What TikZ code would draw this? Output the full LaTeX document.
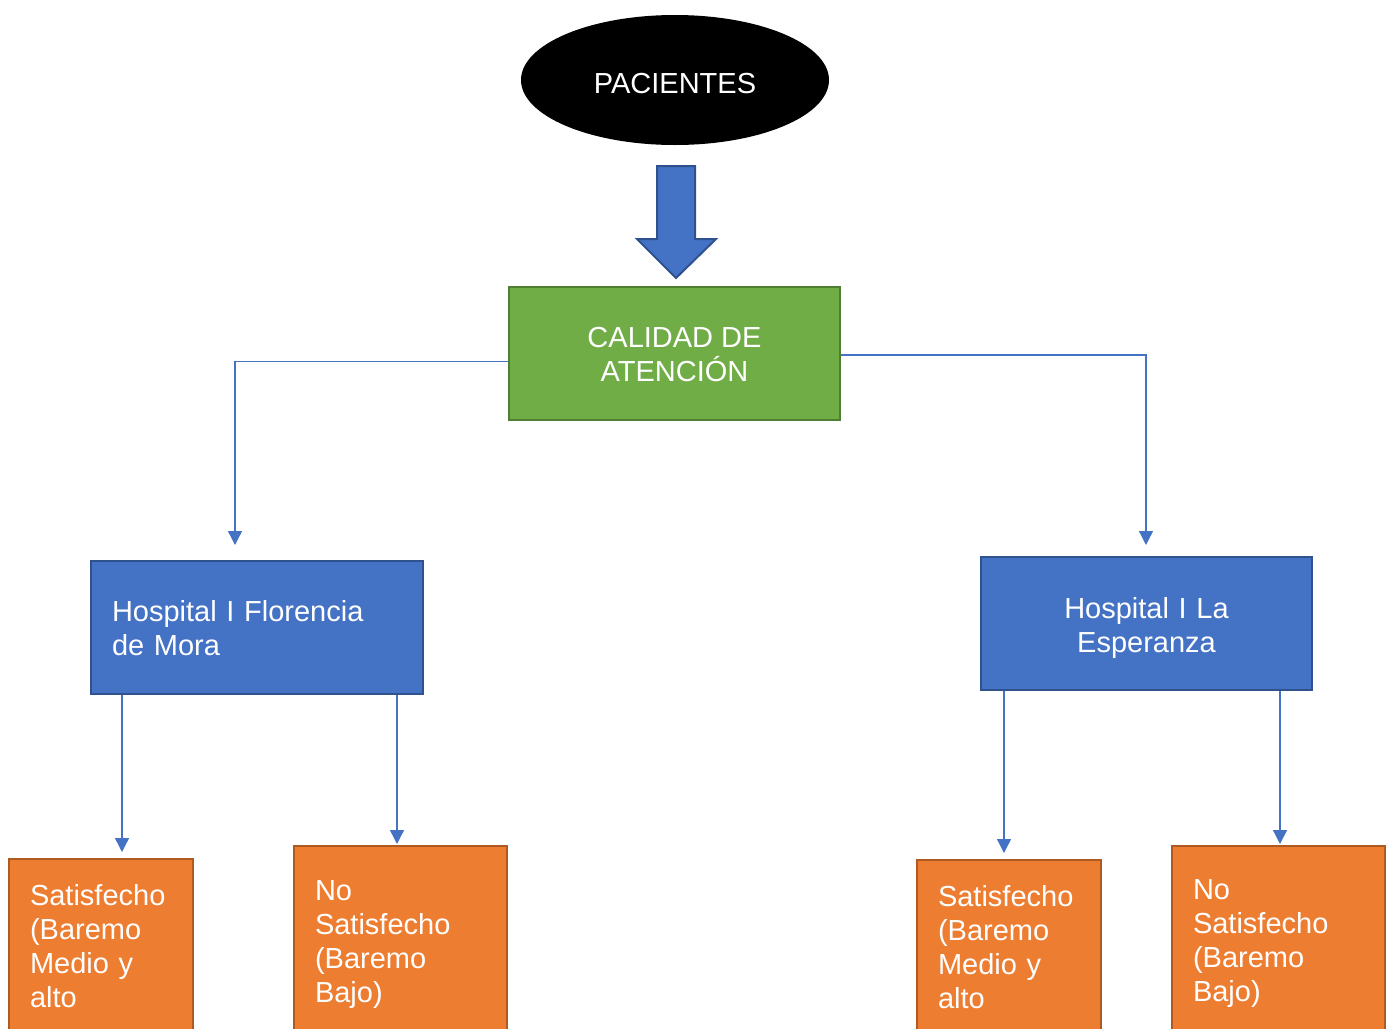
\documentclass[tikz,border=0pt]{standalone}
\usepackage{fontspec}
\setmainfont{Liberation Sans}
\usetikzlibrary{shapes.geometric,arrows.meta}
\definecolor{mblue}{HTML}{4472C4}
\definecolor{mblueb}{HTML}{2F528F}
\definecolor{mgreen}{HTML}{70AD47}
\definecolor{mgreenb}{HTML}{507E32}
\definecolor{morange}{HTML}{ED7D31}
\definecolor{morangeb}{HTML}{AE5A21}
\newcommand{\dnstrut}[1]{\rule{0pt}{#1pt}}
\tikzset{
  txt/.style={text=white,font=\fontsize{29}{34}\selectfont},
  bluebox/.style={txt,rectangle,fill=mblue,draw=mblueb,line width=2.2pt,inner xsep=21pt,inner ysep=0pt,minimum height=133pt},
  greenbox/.style={txt,rectangle,fill=mgreen,draw=mgreenb,line width=2.5pt,inner sep=0pt,minimum width=331pt,minimum height=133pt,align=center},
  orangebox/.style={txt,rectangle,fill=morange,draw=morangeb,line width=2.2pt,inner xsep=21pt,inner ysep=0pt,align=left},
  conn/.style={draw=mblue,line width=1.3pt,-{Triangle[length=14pt,width=14pt]}},
}
\begin{document}
\begin{tikzpicture}[x=1pt,y=-1pt]
\useasboundingbox (0,0) rectangle (1391,1028);
\node[txt,ellipse,fill=black,inner sep=0pt,minimum width=308pt,minimum height=130pt] (pac) at (675,80) {\dnstrut{27}PACIENTES};
\draw[fill=mblue,draw=mblueb,line width=2pt,line join=miter] (657,166) -- (695,166) -- (695,239) -- (716,239) -- (676,278) -- (637,239) -- (657,239) -- cycle;
\node[greenbox] (cal) at (674.5,353.5) {\dnstrut{23}CALIDAD DE\\ATENCIÓN};
\node[bluebox,text width=290pt,align=left] (hl) at (257,627.5) {\dnstrut{23}Hospital I Florencia\\de Mora};
\node[bluebox,text width=289pt,align=center] (hr) at (1146.5,623.5) {\dnstrut{29}Hospital I La\\Esperanza};
\node[orangebox,text width=142pt,minimum height=174pt] (o1) at (101,946) {Satisfecho\\(Baremo\\Medio y\\alto};
\node[orangebox,text width=171pt,minimum height=187pt] (o2) at (400.5,939.5) {\dnstrut{29}No\\Satisfecho\\(Baremo\\Bajo)};
\node[orangebox,text width=142pt,minimum height=174pt] (o3) at (1009,947) {Satisfecho\\(Baremo\\Medio y\\alto};
\node[orangebox,text width=171pt,minimum height=186pt] (o4) at (1278.5,939) {\dnstrut{29}No\\Satisfecho\\(Baremo\\Bajo)};
\coordinate (a1) at (235,545);
\coordinate (a2) at (1146,545);
\coordinate (t1) at (122,852);
\coordinate (t2) at (397,844);
\coordinate (t3) at (1004,853);
\coordinate (t4) at (1280,844);
\draw[conn] ([yshift=-8pt]cal.west) -| (a1);
\draw[conn] ([yshift=-1.5pt]cal.east) -| (a2);
\draw[conn] (hl.south -| t1) -- (t1);
\draw[conn] (hl.south -| t2) -- (t2);
\draw[conn] (hr.south -| t3) -- (t3);
\draw[conn] (hr.south -| t4) -- (t4);
\end{tikzpicture}
\end{document}
